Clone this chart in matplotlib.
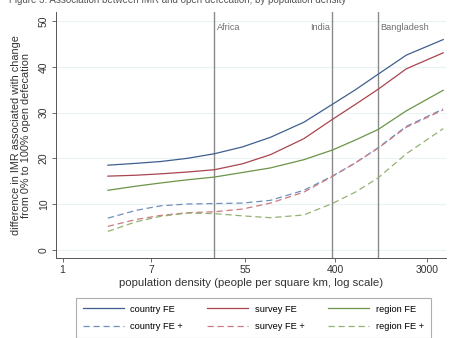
import numpy as np
import matplotlib
matplotlib.use("Agg")
import matplotlib.pyplot as plt
from matplotlib.lines import Line2D

plt.rcParams['font.family'] = ['Liberation Sans', 'DejaVu Sans']

# population density (people per sq km) at which values were read
density = [2.7, 5.0, 8.6, 15.5, 28, 52, 96, 200, 373, 620, 1020, 1900, 4270]

country_fe  = [18.5, 18.9, 19.3, 20.0, 21.0, 22.5, 24.6, 27.9, 31.8, 35.0, 38.4, 42.6, 46.0]
survey_fe   = [16.1, 16.3, 16.6, 17.0, 17.5, 18.8, 20.8, 24.3, 28.5, 31.8, 35.1, 39.6, 43.1]
region_fe   = [13.0, 13.9, 14.6, 15.3, 15.9, 16.9, 17.9, 19.7, 21.8, 24.0, 26.3, 30.4, 34.9]
country_fep = [6.9, 8.6, 9.6, 10.0, 10.1, 10.2, 10.8, 13.0, 16.1, 19.0, 22.3, 27.0, 30.8]
survey_fep  = [5.1, 6.6, 7.5, 8.1, 8.3, 8.9, 10.2, 12.6, 16.0, 19.0, 22.2, 26.8, 30.6]
region_fep  = [4.0, 6.1, 7.3, 8.0, 7.9, 7.4, 7.0, 7.6, 10.1, 12.6, 15.7, 21.0, 26.5]

ref_names = ["Africa", "India", "Bangladesh"]
ref_density = [28, 373, 1020]

xtick_vals = [1, 7, 55, 400, 3000]
ytick_vals = [0, 10, 20, 30, 40, 50]

c_blue, c_red, c_green = "#3f5f8f", "#a8454f", "#6b9448"
c_blue2, c_red2, c_green2 = "#6f8fbd", "#cc7b83", "#93b272"

fig = plt.figure(figsize=(4.5, 3.38), dpi=100)
ax = fig.add_axes([0.124, 0.237, 0.867, 0.727])

x = np.log(density)
ax.plot(x, country_fe, color=c_blue, lw=0.9)
ax.plot(x, survey_fe, color=c_red, lw=0.9)
ax.plot(x, region_fe, color=c_green, lw=0.9)
ax.plot(x, country_fep, color=c_blue2, lw=0.9, dashes=(5, 3))
ax.plot(x, survey_fep, color=c_red2, lw=0.9, dashes=(5, 3))
ax.plot(x, region_fep, color=c_green2, lw=0.9, dashes=(5, 3))

for name, d in zip(ref_names, ref_density):
    xv = np.log(d)
    ax.axvline(xv, color="#8a8a8a", lw=1.0, zorder=1)
    if name == "India":
        ax.text(xv - 0.05, 48.6, name, ha="right", va="center", fontsize=6.6, color="#707070")
    else:
        ax.text(xv + 0.05, 48.6, name, ha="left", va="center", fontsize=6.6, color="#707070")

ax.set_xlim(-0.15, 8.42)
ax.set_ylim(-1.8, 52)
ax.set_xticks(np.log(xtick_vals))
ax.set_xticklabels([str(v) for v in xtick_vals])
ax.set_yticks(ytick_vals)
ax.set_yticklabels([str(v) for v in ytick_vals], rotation=90, va="center")
for yv in ytick_vals:
    ax.axhline(yv, color="#eaf2f3", lw=0.8, zorder=0)

for s in ["top", "right"]:
    ax.spines[s].set_visible(False)
for s in ["left", "bottom"]:
    ax.spines[s].set_color("#555555")
    ax.spines[s].set_linewidth(0.7)
ax.tick_params(axis="both", labelsize=7.5, length=3, width=0.6, color="#555555", pad=2, labelcolor="#333333")

ax.set_xlabel("population density (people per square km, log scale)", fontsize=8.2, labelpad=2, color="#333333")
ax.set_ylabel("difference in IMR associated with change\nfrom 0% to 100% open defecation", fontsize=7.8, color="#333333", linespacing=1.0)
ax.yaxis.set_label_coords(-0.064, 0.5)

fig.text(0.02, 1.0, "Figure 3: Association between IMR and open defecation, by population density",
         fontsize=7, color="#555555", va="center", ha="left")

handles = [
    Line2D([], [], color=c_blue, lw=0.9), Line2D([], [], color=c_blue2, lw=0.9, dashes=(5, 3)),
    Line2D([], [], color=c_red, lw=0.9), Line2D([], [], color=c_red2, lw=0.9, dashes=(5, 3)),
    Line2D([], [], color=c_green, lw=0.9), Line2D([], [], color=c_green2, lw=0.9, dashes=(5, 3)),
]
labels = ["country FE", "country FE +", "survey FE", "survey FE +", "region FE", "region FE +"]
leg = fig.legend(handles, labels, ncol=3, loc="upper left", bbox_to_anchor=(0.169, 0.118),
                 fontsize=6.7, frameon=True, fancybox=False, edgecolor="#9a9a9a",
                 handlelength=4.4, handletextpad=0.75, columnspacing=2.55, labelspacing=0.9,
                 borderpad=0.7, borderaxespad=0)
leg.get_frame().set_linewidth(0.8)

fig.savefig("out.png", dpi=100)
